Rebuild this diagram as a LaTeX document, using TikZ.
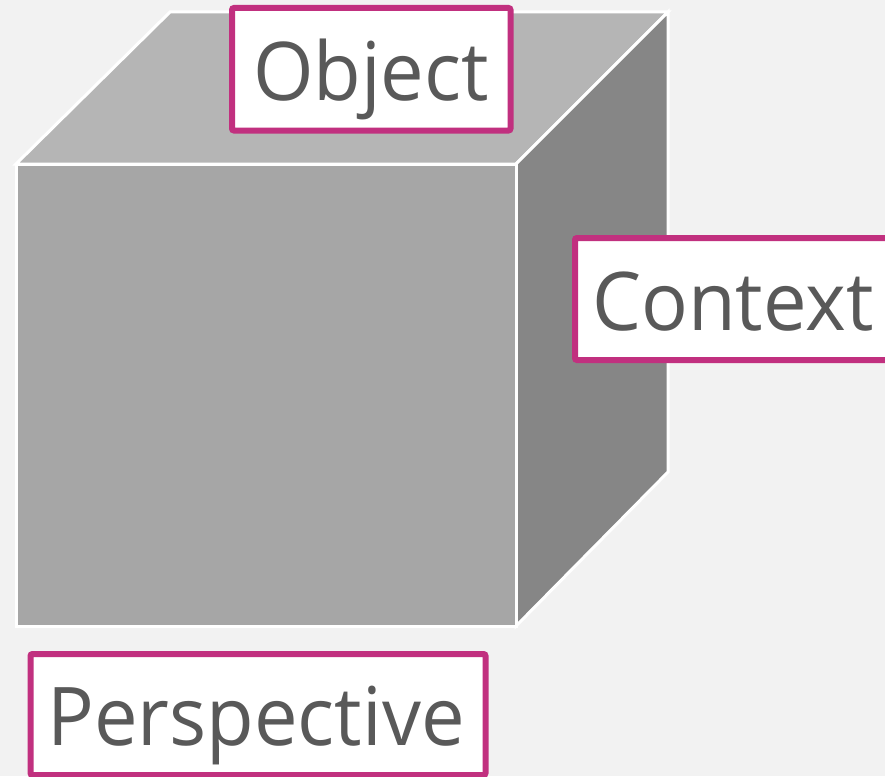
\documentclass[tikz,border=0pt]{standalone}
\usepackage{fontspec}
\setmainfont{Open Sans}[FakeStretch=0.96]
\definecolor{bgc}{HTML}{F2F2F2}
\definecolor{topc}{HTML}{B5B5B5}
\definecolor{frontc}{HTML}{A6A6A6}
\definecolor{sidec}{HTML}{868686}
\definecolor{frame}{HTML}{C1307F}
\definecolor{ink}{HTML}{595959}
\begin{document}
\begin{tikzpicture}[x=1pt,y=-1pt,
  face/.style={draw=white,line width=3pt,line join=miter},
  labelbox/.style={draw=frame,fill=white,line width=6pt,rounded corners=2pt,inner sep=0pt},
  labeltext/.style={text=ink,font=\fontsize{81}{90}\selectfont,inner sep=0pt}]
  \fill[bgc] (0,0) rectangle (885,776);
  \useasboundingbox (0,0) rectangle (885,776);
  \clip (0,0) rectangle (885,776);
  % cube faces
  \filldraw[face,fill=topc] (16,164) -- (170,12) -- (668,12) -- (516,164) -- cycle;
  \filldraw[face,fill=sidec] (516,164) -- (668,12) -- (668,472) -- (516,626) -- cycle;
  \filldraw[face,fill=frontc] (16,164) rectangle (516,626);
  % labels
  \node[labelbox,minimum width=278.5,minimum height=122.5] (objbox) at (371.25,69.25) {};
  \node[labeltext,anchor=base] (objtext) at (371,100) {Object};
  \node[labelbox,minimum width=320,minimum height=122] (ctxbox) at (735,299) {};
  \node[labeltext,anchor=base west] (ctxtext) at (592,330) {Context};
  \node[labelbox,minimum width=455,minimum height=121] (perbox) at (258,714.5) {};
  \node[labeltext,anchor=base] (pertext) at (256,745) {Perspective};
\end{tikzpicture}
\end{document}
